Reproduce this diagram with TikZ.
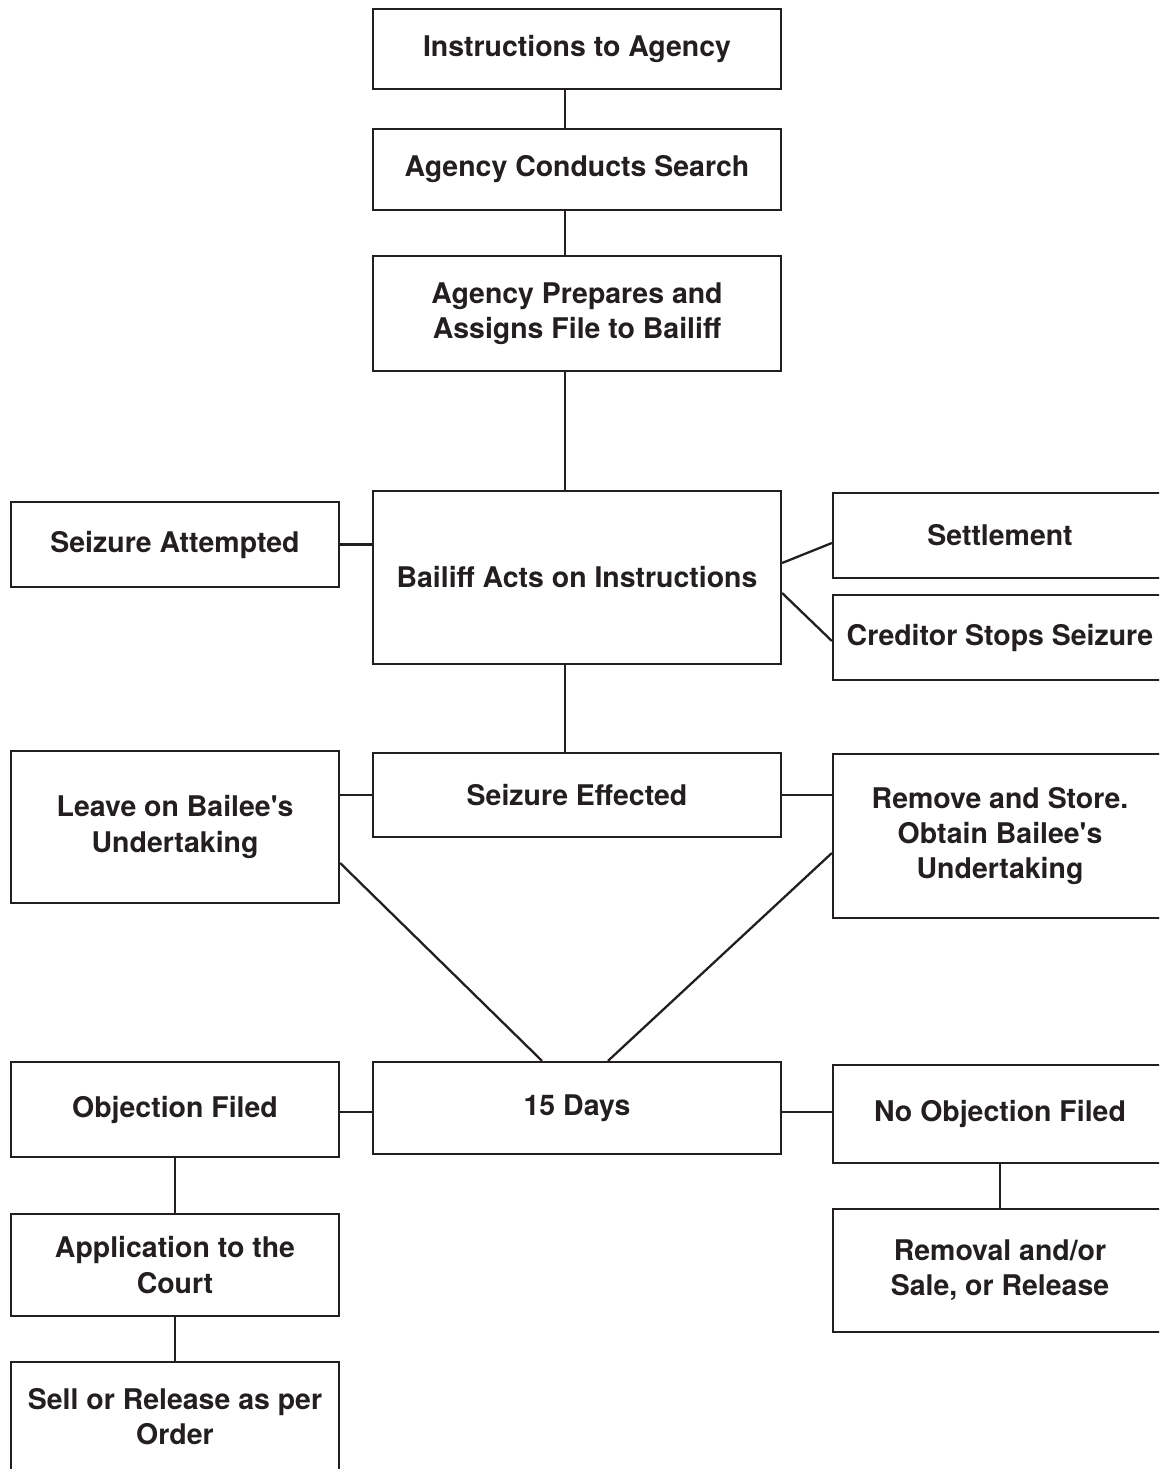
\documentclass[tikz,border=0pt]{standalone}
\usepackage{fontspec}
\setmainfont{TeX Gyre Heros}
\usepackage{tikz}
\definecolor{ink}{HTML}{231F20}
\tikzstyle{block} = [rectangle, draw=ink, line width=1.3pt, text=ink, align=center, inner sep=0pt, minimum width=8.16cm, font=\fontsize{16.2}{20}\selectfont\bfseries]
\tikzstyle{sideblock} = [block, minimum width=6.56cm]
\tikzstyle{rightblock} = [block, minimum width=6.68cm]
\tikzstyle{line} = [draw=ink, line width=1.3pt]

\begin{document}
\begin{tikzpicture}[x=0.02cm, y=-0.02cm]
		\clip (0,0) rectangle (1159,1469);
		% Main column
		\node[block, minimum height=1.6cm] (inst) at (577,49) {Instructions to Agency};
		\node[block, minimum height=1.62cm] (search) at (577,169.5) {Agency Conducts Search};
		\node[block, minimum height=2.3cm] (prep) at (577,313.5) {Agency Prepares and\\Assigns File to Bailiff};
		\node[block, minimum height=3.46cm] (bailiff) at (577,577.5) {Bailiff Acts on Instructions};
		\node[block, minimum height=1.68cm] (effected) at (577,795) {Seizure Effected};
		\node[block, minimum height=1.84cm] (days) at (577,1108) {15 Days};
		
		% Left column
		\node[sideblock, minimum height=1.7cm] (attempted) at (175,544.5) {Seizure Attempted};
		\node[sideblock, minimum height=3.04cm] (leave) at (175,827) {Leave on Bailee\textquotesingle s\\Undertaking};
		\node[sideblock, minimum height=1.9cm] (objection) at (175,1109.5) {Objection Filed};
		\node[sideblock, minimum height=2.04cm] (court) at (175,1265) {Application to the\\Court};
		\node[sideblock, minimum height=2.2cm] (sell) at (175,1417) {Sell or Release as per\\Order};
		
		% Right column
		\node[rightblock, minimum height=1.7cm] (settlement) at (1000,535.5) {Settlement};
		\node[rightblock, minimum height=1.7cm] (creditor) at (1000,637.5) {Creditor Stops Seizure};
		\node[rightblock, minimum height=3.28cm] (remove) at (1000,836) {Remove and Store.\\Obtain Bailee\textquotesingle s\\Undertaking};
		\node[rightblock, minimum height=1.96cm] (noobj) at (1000,1114) {No Objection Filed};
		\node[rightblock, minimum height=2.46cm] (removal) at (1000,1270.5) {Removal and/or\\Sale, or Release};
		
		% Connectors
		\coordinate (spine) at (565,0);
		\draw[line] (inst.south -| spine) -- (search.north -| spine);
		\draw[line] (search.south -| spine) -- (prep.north -| spine);
		\draw[line] (prep.south -| spine) -- (bailiff.north -| spine);
		\draw[line] (bailiff.south -| spine) -- (effected.north -| spine);
		\draw[line] (attempted.east) -- (attempted.east -| bailiff.west);
		\draw[line] ([yshift=0.29cm]bailiff.east) -- ([yshift=-0.15cm]settlement.west);
		\draw[line] ([yshift=-0.31cm]bailiff.east) -- ([yshift=-0.07cm]creditor.west);
		\draw[line] (effected.west) -- (effected.west -| leave.east);
		\draw[line] (effected.east) -- (effected.east -| remove.west);
		\draw[line] ([yshift=-0.72cm]leave.east) -- ([xshift=-0.7cm]days.north);
		\draw[line] ([yshift=-0.34cm]remove.west) -- ([xshift=0.62cm]days.north);
		\draw[line] ([yshift=-0.08cm]days.west) -- ([yshift=-0.08cm]days.west -| objection.east);
		\draw[line] ([yshift=-0.08cm]days.east) -- ([yshift=-0.08cm]days.east -| noobj.west);
		\draw[line] (objection.south) -- (court.north);
		\draw[line] (court.south) -- (sell.north);
		\draw[line] (noobj.south) -- (removal.north);
	\end{tikzpicture}
\end{document}
